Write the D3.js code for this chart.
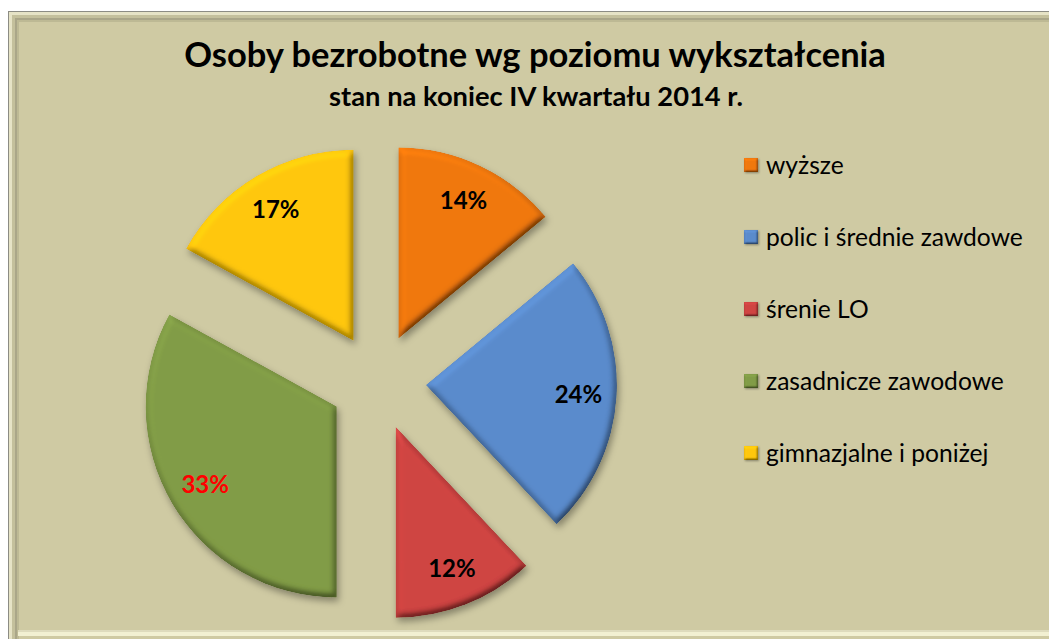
<html>
<head>
  <meta charset="UTF-8">
  <script src="https://d3js.org/d3.v7.min.js"></script>
  <style>
    body { margin: 0; background: #ffffff; }
  </style>
</head>
<body>
  <svg id="chart" width="1049" height="639"></svg>

  <script>
    // data
    const categories = [ "wyższe", "polic i średnie zawdowe", "śrenie LO", "zasadnicze zawodowe", "gimnazjalne i poniżej" ];
    const shares = [ 14, 24, 12, 33, 17 ];
    const colors = [ "#f0780f", "#5a8bcc", "#cf4442", "#819c46", "#ffc70a" ];
    const labelColors = [ "#000", "#000", "#000", "#ff0000", "#000" ];
    const title = "Osoby bezrobotne wg poziomu wykształcenia";
    const subtitle = "stan na koniec IV kwartału 2014 r.";

    const font = "Lato, 'Open Sans', sans-serif";
    const svg = d3.select( "#chart" );
    const defs = svg.append( "defs" );

    // bevel + shadow filter
    function bevelFilter( id, blur, scale, sh ) {
      const f = defs.append( "filter" ).attr( "id", id )
        .attr( "x", "-20%" ).attr( "y", "-20%" ).attr( "width", "140%" ).attr( "height", "140%" );
      f.append( "feGaussianBlur" ).attr( "in", "SourceAlpha" ).attr( "stdDeviation", blur ).attr( "result", "b" );
      f.append( "feDiffuseLighting" ).attr( "in", "b" ).attr( "surfaceScale", scale )
        .attr( "diffuseConstant", 1 ).attr( "lighting-color", "#fff" ).attr( "result", "d" )
        .append( "feDistantLight" ).attr( "azimuth", 240 ).attr( "elevation", 60 );
      f.append( "feComposite" ).attr( "in", "SourceGraphic" ).attr( "in2", "d" )
        .attr( "operator", "arithmetic" ).attr( "k1", 1.155 ).attr( "k2", 0 ).attr( "k3", 0 ).attr( "k4", 0 )
        .attr( "result", "lit" );
      f.append( "feComposite" ).attr( "in", "lit" ).attr( "in2", "SourceAlpha" ).attr( "operator", "in" ).attr( "result", "litc" );
      f.append( "feGaussianBlur" ).attr( "in", "SourceAlpha" ).attr( "stdDeviation", sh ).attr( "result", "sb" );
      f.append( "feOffset" ).attr( "in", "sb" ).attr( "dx", sh * 0.5 ).attr( "dy", sh ).attr( "result", "so" );
      f.append( "feFlood" ).attr( "flood-color", "#000" ).attr( "flood-opacity", 0.35 );
      f.append( "feComposite" ).attr( "in2", "so" ).attr( "operator", "in" ).attr( "result", "shadow" );
      const m = f.append( "feMerge" );
      m.append( "feMergeNode" ).attr( "in", "shadow" );
      m.append( "feMergeNode" ).attr( "in", "litc" );
    }
    bevelFilter( "bevel", 3.5, 5, 3.5 );
    bevelFilter( "bevelSmall", 1.2, 2, 1 );

    // background + frame
    svg.append( "rect" ).attr( "x", 8 ).attr( "y", 11 ).attr( "width", 1060 ).attr( "height", 640 ).attr( "fill", "#cfcaa3" );
    const frame = [
      { o: 0.5, c: "#8c8c84", w: 1 },
      { o: 2.5, c: "#e6e3c6", w: 3 },
      { o: 5.5, c: "#c4c09c", w: 3 },
      { o: 8, c: "#aaa688", w: 2 },
      { o: 10, c: "#bdb994", w: 2 }
    ];
    frame.forEach( function ( b ) {
      svg.append( "rect" ).attr( "x", 8 + b.o ).attr( "y", 11 + b.o )
        .attr( "width", 1080 ).attr( "height", 640 )
        .attr( "fill", "none" ).attr( "stroke", b.c ).attr( "stroke-width", b.w );
    } );
    // light lower edge
    svg.append( "rect" ).attr( "x", 18 ).attr( "y", 630 ).attr( "width", 1040 ).attr( "height", 2 ).attr( "fill", "#dedbbd" );
    svg.append( "rect" ).attr( "x", 18 ).attr( "y", 632 ).attr( "width", 1040 ).attr( "height", 4 ).attr( "fill", "#f2f0d2" );

    // titles
    function fitWidth( sel, target ) {
      const w = sel.node().getComputedTextLength();
      sel.attr( "font-size", parseFloat( sel.attr( "font-size" ) ) * target / w );
    }
    const t1 = svg.append( "text" ).attr( "x", 535 ).attr( "y", 67 ).attr( "text-anchor", "middle" )
      .attr( "font-family", font ).attr( "font-weight", "bold" ).attr( "font-size", 32 ).text( title );
    fitWidth( t1, 702 );
    const t2 = svg.append( "text" ).attr( "x", 536 ).attr( "y", 106 ).attr( "text-anchor", "middle" )
      .attr( "font-family", font ).attr( "font-weight", "bold" ).attr( "font-size", 20 ).text( subtitle );
    fitWidth( t2, 414 );

    // pie
    const cx = 378, cy = 382, radius = 191, explode = 48;
    const pie = d3.pie().sort( null ).value( function ( d ) { return d; } );
    const arcs = pie( shares );
    const arc = d3.arc().innerRadius( 0 ).outerRadius( radius );
    const labelArc = d3.arc().innerRadius( radius * 0.8 ).outerRadius( radius * 0.8 );

    const slices = svg.append( "g" ).attr( "transform", "translate(" + cx + "," + cy + ")" )
      .selectAll( "g" ).data( arcs ).enter().append( "g" )
      .attr( "transform", function ( d ) {
        const a = ( d.startAngle + d.endAngle ) / 2;
        return "translate(" + ( Math.sin( a ) * explode ) + "," + ( -Math.cos( a ) * explode ) + ")";
      } );

    slices.append( "path" ).attr( "d", arc )
      .attr( "fill", function ( d, i ) { return colors[ i ]; } )
      .attr( "filter", "url(#bevel)" );

    slices.append( "text" )
      .attr( "transform", function ( d ) { return "translate(" + labelArc.centroid( d ) + ")"; } )
      .attr( "text-anchor", "middle" ).attr( "dy", "0.36em" )
      .attr( "font-family", font ).attr( "font-weight", "bold" ).attr( "font-size", 24 )
      .attr( "fill", function ( d, i ) { return labelColors[ i ]; } )
      .text( function ( d ) { return d.data + "%"; } );

    // legend
    const legendY = d3.scalePoint().domain( categories ).range( [ 165, 453 ] );
    const legend = svg.append( "g" ).selectAll( "g" ).data( categories ).enter().append( "g" )
      .attr( "transform", function ( d ) { return "translate(744," + legendY( d ) + ")"; } );
    legend.append( "rect" ).attr( "x", 0 ).attr( "y", -7 ).attr( "width", 14 ).attr( "height", 14 )
      .attr( "fill", function ( d, i ) { return colors[ i ]; } )
      .attr( "filter", "url(#bevelSmall)" );
    const ltexts = legend.append( "text" ).attr( "x", 22 ).attr( "dy", "0.35em" )
      .attr( "font-family", font ).attr( "font-size", 20 ).attr( "fill", "#000" )
      .text( function ( d ) { return d; } );
    const longest = ltexts.filter( function ( d, i ) { return i === 1; } );
    const lw = longest.node().getComputedTextLength();
    ltexts.attr( "font-size", 20 * 257 / lw );
  </script>
</body>
</html>
